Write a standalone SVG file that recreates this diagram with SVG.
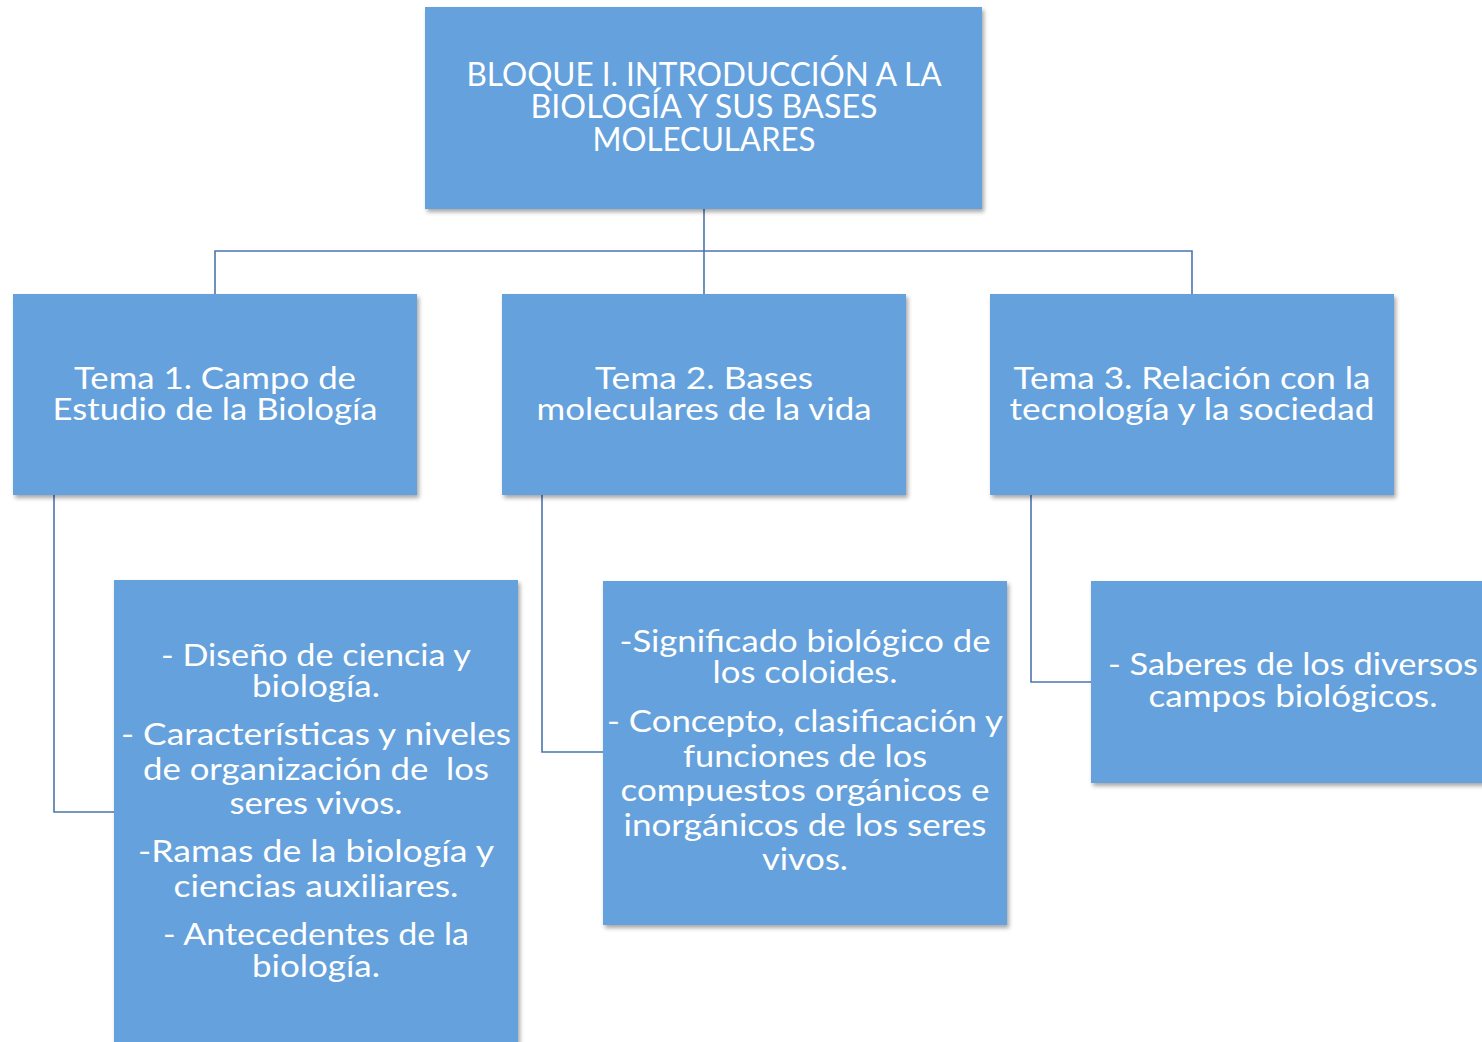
<svg xmlns="http://www.w3.org/2000/svg" width="1482" height="1042" viewBox="0 0 1482 1042">
<style>
.box{fill:#65a1dc;filter:url(#sh)}
.t{font-family:Lato,"Open Sans","DejaVu Sans",sans-serif;fill:#ffffff;text-anchor:middle;font-size:30px}
.h{font-size:32px}
.c{fill:none;stroke:#4a76ae;stroke-width:1.6}
</style>
<defs>
<filter id="sh" x="-5%" y="-5%" width="112%" height="115%">
<feDropShadow dx="2" dy="3" stdDeviation="2" flood-color="#000" flood-opacity="0.35"/>
</filter>
</defs>
<rect width="1482" height="1042" fill="#ffffff"/>
<g id="connectors">
<path class="c" d="M704 209V251M215 294V251H1192V294M704 251V294"/>
<path class="c" d="M54 495V812H114"/>
<path class="c" d="M542 495V752H603"/>
<path class="c" d="M1031 495V682H1091"/>
</g>
<g id="root">
<rect class="box" x="425" y="7" width="557" height="202"/>
<text class="t h"><tspan x="704" y="86" textLength="475" lengthAdjust="spacingAndGlyphs">BLOQUE I. INTRODUCCIÓN A LA</tspan><tspan x="704" y="118" textLength="347" lengthAdjust="spacingAndGlyphs">BIOLOGÍA Y SUS BASES</tspan><tspan x="704" y="151" textLength="223" lengthAdjust="spacingAndGlyphs">MOLECULARES</tspan></text>
</g>
<g id="tema1">
<rect class="box" x="13" y="294" width="404" height="201"/>
<text class="t"><tspan x="215" y="389" textLength="282" lengthAdjust="spacingAndGlyphs">Tema 1. Campo de</tspan><tspan x="215" y="420" textLength="325" lengthAdjust="spacingAndGlyphs">Estudio de la Biología</tspan></text>
</g>
<g id="tema2">
<rect class="box" x="502" y="294" width="404" height="201"/>
<text class="t"><tspan x="704" y="389" textLength="218" lengthAdjust="spacingAndGlyphs">Tema 2. Bases</tspan><tspan x="704" y="420" textLength="335" lengthAdjust="spacingAndGlyphs">moleculares de la vida</tspan></text>
</g>
<g id="tema3">
<rect class="box" x="990" y="294" width="404" height="201"/>
<text class="t"><tspan x="1192" y="389" textLength="357" lengthAdjust="spacingAndGlyphs">Tema 3. Relación con la</tspan><tspan x="1192" y="420" textLength="365" lengthAdjust="spacingAndGlyphs">tecnología y la sociedad</tspan></text>
</g>
<g id="sub1">
<rect class="box" x="114" y="580" width="404" height="470"/>
<text class="t"><tspan x="316" y="666" textLength="310" lengthAdjust="spacingAndGlyphs">- Diseño de ciencia y</tspan><tspan x="316" y="697" textLength="128" lengthAdjust="spacingAndGlyphs">biología.</tspan><tspan x="316" y="745" textLength="390" lengthAdjust="spacingAndGlyphs">- Características y niveles</tspan><tspan x="316" y="780" textLength="346" lengthAdjust="spacingAndGlyphs" xml:space="preserve">de organización de  los</tspan><tspan x="316" y="814" textLength="173" lengthAdjust="spacingAndGlyphs">seres vivos.</tspan><tspan x="316" y="862" textLength="356" lengthAdjust="spacingAndGlyphs">-Ramas de la biología y</tspan><tspan x="316" y="897" textLength="285" lengthAdjust="spacingAndGlyphs">ciencias auxiliares.</tspan><tspan x="316" y="945" textLength="306" lengthAdjust="spacingAndGlyphs">- Antecedentes de la</tspan><tspan x="316" y="977" textLength="128" lengthAdjust="spacingAndGlyphs">biología.</tspan></text>
</g>
<g id="sub2">
<rect class="box" x="603" y="581" width="404" height="344"/>
<text class="t"><tspan x="805" y="652" textLength="371" lengthAdjust="spacingAndGlyphs">-Significado biológico de</tspan><tspan x="805" y="683" textLength="185" lengthAdjust="spacingAndGlyphs">los coloides.</tspan><tspan x="805" y="732" textLength="396" lengthAdjust="spacingAndGlyphs">- Concepto, clasificación y</tspan><tspan x="805" y="767" textLength="244" lengthAdjust="spacingAndGlyphs">funciones de los</tspan><tspan x="805" y="801" textLength="369" lengthAdjust="spacingAndGlyphs">compuestos orgánicos e</tspan><tspan x="805" y="836" textLength="363" lengthAdjust="spacingAndGlyphs">inorgánicos de los seres</tspan><tspan x="805" y="870" textLength="86" lengthAdjust="spacingAndGlyphs">vivos.</tspan></text>
</g>
<g id="sub3">
<rect class="box" x="1091" y="581" width="404" height="202"/>
<text class="t"><tspan x="1293" y="675" textLength="370" lengthAdjust="spacingAndGlyphs">- Saberes de los diversos</tspan><tspan x="1293" y="707" textLength="289" lengthAdjust="spacingAndGlyphs">campos biológicos.</tspan></text>
</g>
</svg>
